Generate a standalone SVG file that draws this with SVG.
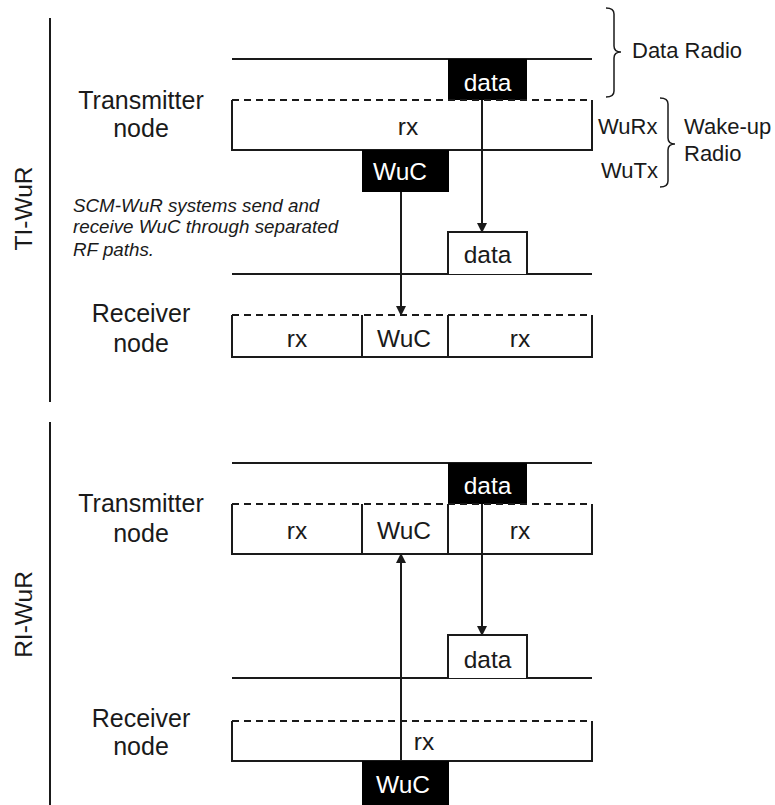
<svg xmlns="http://www.w3.org/2000/svg" width="775" height="805" viewBox="0 0 775 805">
<style>
.ln{stroke:#1a1a1a;stroke-width:2;fill:none}
.br{stroke:#1a1a1a;stroke-width:1.5;fill:none}
.ds{stroke:#1a1a1a;stroke-width:2;fill:none;stroke-dasharray:7 5}
.blk{fill:#000}
.wbox{fill:#fff;stroke:#1a1a1a;stroke-width:2}
.t{font-family:"Liberation Sans",Arial,sans-serif;font-size:24.5px;fill:#1a1a1a;text-anchor:middle}
.tl{font-family:"Liberation Sans",Arial,sans-serif;font-size:25px;fill:#1a1a1a;text-anchor:middle}
.tw{font-family:"Liberation Sans",Arial,sans-serif;font-size:24.5px;fill:#fff;text-anchor:middle}
.s{font-family:"Liberation Sans",Arial,sans-serif;font-size:22px;fill:#1a1a1a}
.it{font-family:"Liberation Sans",Arial,sans-serif;font-size:18.8px;font-style:italic;fill:#1a1a1a}
</style>
<defs>
<marker id="ah" markerWidth="10" markerHeight="10" refX="9" refY="5" orient="auto" markerUnits="userSpaceOnUse">
<path d="M0,0 L10,5 L0,10 Z" fill="#1a1a1a"/>
</marker>
</defs>
<rect width="775" height="805" fill="#fff"/>

<g id="panel-ti">
<line class="ln" x1="50" y1="18" x2="50" y2="402"/>
<text class="t" transform="translate(32,208.5) rotate(-90)">TI-WuR</text>
</g>
<g id="panel-ri">
<line class="ln" x1="50" y1="422" x2="50" y2="805"/>
<text class="t" transform="translate(32,614.5) rotate(-90)">RI-WuR</text>
</g>

<!-- TI top: transmitter -->
<g id="ti-tx-label">
<text class="tl" x="141" y="109">Transmitter</text>
<text class="tl" x="141" y="137">node</text>
</g>
<g id="ti-tx-dataline"><line class="ln" x1="232" y1="59" x2="592" y2="59"/></g>
<g id="ti-tx-data">
<rect class="blk" x="448" y="59" width="79" height="41"/>
<text class="tw" x="487.5" y="91">data</text>
</g>
<g id="ti-tx-wurx">
<path class="ln" d="M232,100 V150 H592 V100"/>
<line class="ds" x1="232" y1="100" x2="592" y2="100"/>
<text class="t" x="408" y="135">rx</text>
</g>
<g id="ti-tx-wuc">
<rect class="blk" x="362" y="150" width="87" height="42"/>
<text class="tw" x="400" y="180">WuC</text>
</g>
<g id="ti-note">
<text class="it" x="73" y="212">SCM-WuR systems send and</text>
<text class="it" x="73" y="233">receive WuC through separated</text>
<text class="it" x="73" y="256">RF paths.</text>
</g>
<g id="ti-rx-dataline"><line class="ln" x1="232" y1="274" x2="592" y2="274"/></g>
<g id="ti-rx-data">
<path class="wbox" d="M448,274 V232 H527 V274"/>
<text class="t" x="487.5" y="263">data</text>
</g>
<g id="ti-rx-label">
<text class="tl" x="141" y="322">Receiver</text>
<text class="tl" x="141" y="352">node</text>
</g>
<g id="ti-rx-wurx">
<path class="ln" d="M232,315 V357 H592 V315"/>
<line class="ds" x1="232" y1="315" x2="592" y2="315"/>
<line class="ln" x1="362" y1="315" x2="362" y2="357"/>
<line class="ln" x1="448" y1="315" x2="448" y2="357"/>
<text class="t" x="297" y="347">rx</text>
<text class="t" x="404" y="347">WuC</text>
<text class="t" x="520" y="347">rx</text>
</g>

<!-- labels right -->
<g id="brace-data">
<path class="br" d="M606,8 Q614,8 614,14 V46 Q614,52 621,52 Q614,52 614,58 V91 Q614,97 606,97"/>
<text class="s" x="632" y="58">Data Radio</text>
</g>
<g id="brace-wur">
<path class="br" d="M660,98 Q668,98 668,104 V138 Q668,144 675,144 Q668,144 668,150 V181 Q668,187 660,187"/>
<text class="s" x="598" y="134">WuRx</text>
<text class="s" x="601" y="178">WuTx</text>
<text class="s" x="684" y="134">Wake-up</text>
<text class="s" x="684" y="161">Radio</text>
</g>

<!-- RI bottom: transmitter -->
<g id="ri-tx-label">
<text class="tl" x="141" y="512">Transmitter</text>
<text class="tl" x="141" y="542">node</text>
</g>
<g id="ri-tx-dataline"><line class="ln" x1="232" y1="463" x2="592" y2="463"/></g>
<g id="ri-tx-data">
<rect class="blk" x="448" y="463" width="79" height="41"/>
<text class="tw" x="487.5" y="494">data</text>
</g>
<g id="ri-tx-wurx">
<path class="ln" d="M232,504 V554 H592 V504"/>
<line class="ds" x1="232" y1="504" x2="592" y2="504"/>
<line class="ln" x1="362" y1="504" x2="362" y2="554"/>
<line class="ln" x1="448" y1="504" x2="448" y2="554"/>
<text class="t" x="297" y="539">rx</text>
<text class="t" x="404" y="539">WuC</text>
<text class="t" x="520" y="539">rx</text>
</g>
<g id="ri-rx-dataline"><line class="ln" x1="232" y1="678" x2="592" y2="678"/></g>
<g id="ri-rx-data">
<path class="wbox" d="M448,678 V635 H527 V678"/>
<text class="t" x="487.5" y="668">data</text>
</g>
<g id="ri-rx-label">
<text class="tl" x="141" y="727">Receiver</text>
<text class="tl" x="141" y="755">node</text>
</g>
<g id="ri-rx-wurx">
<path class="ln" d="M232,721 V761 H592 V721"/>
<line class="ds" x1="232" y1="721" x2="592" y2="721"/>
<text class="t" x="424" y="750">rx</text>
</g>
<g id="ri-rx-wuc">
<rect class="blk" x="362" y="761" width="87" height="44"/>
<text class="tw" x="403" y="793">WuC</text>
</g>

<g id="connectors">
<line class="ln" x1="401" y1="192" x2="401" y2="315" marker-end="url(#ah)"/>
<line class="ln" x1="482" y1="100" x2="482" y2="232" marker-end="url(#ah)"/>
<line class="ln" x1="482" y1="504" x2="482" y2="635" marker-end="url(#ah)"/>
<line class="ln" x1="401" y1="761" x2="401" y2="554" marker-end="url(#ah)"/>
</g>
</svg>
